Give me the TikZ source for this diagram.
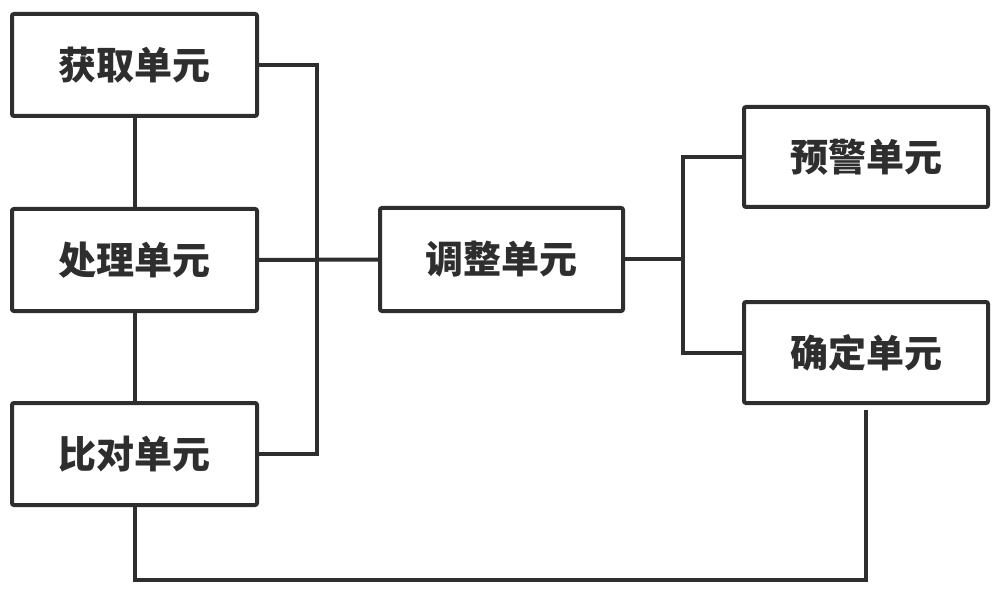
\documentclass[tikz,border=0pt]{standalone}
\usepackage{fontspec}
\newfontfamily\cjk{Noto Sans CJK SC}
\definecolor{ink}{HTML}{2E2E2E}
\begin{document}
\begin{tikzpicture}[x=1pt,y=-1pt,
  unitbox/.style={draw=ink, line width=4pt, rounded corners=2pt, minimum width=245pt, minimum height=102pt, inner sep=0pt, font=\cjk\bfseries\fontsize{38}{44}\selectfont, text=ink},
  wire/.style={draw=ink, line width=4pt}]
\useasboundingbox (0,0) rectangle (1000,593);
\node[unitbox] (A) at (134.5,65) {获取单元};
\node[unitbox] (B) at (134.5,260) {处理单元};
\node[unitbox] (C) at (134.5,454) {比对单元};
\node[unitbox, minimum width=243pt, minimum height=103pt] (D) at (501.5,259.5) {调整单元};
\node[unitbox, minimum width=244pt, minimum height=100pt] (E) at (866,157) {预警单元};
\node[unitbox, minimum width=244pt, minimum height=101pt] (F) at (866,352.5) {确定单元};
\draw[wire] (A) -- (B);
\draw[wire] (B) -- (C);
\draw[wire] (A.east) -- (317,65) -- (317,454) -- (C.east);
\draw[wire] (B) -- (D);
\draw[wire] (D.east) -- (683,259.5);
\draw[wire] (E.west) -- (683,157) -- (683,352.5) -- (F.west);
\draw[wire] (F.south) ++(0,5) -- (866,580) -- (134.5,580) -- (C.south);
\end{tikzpicture}
\end{document}
